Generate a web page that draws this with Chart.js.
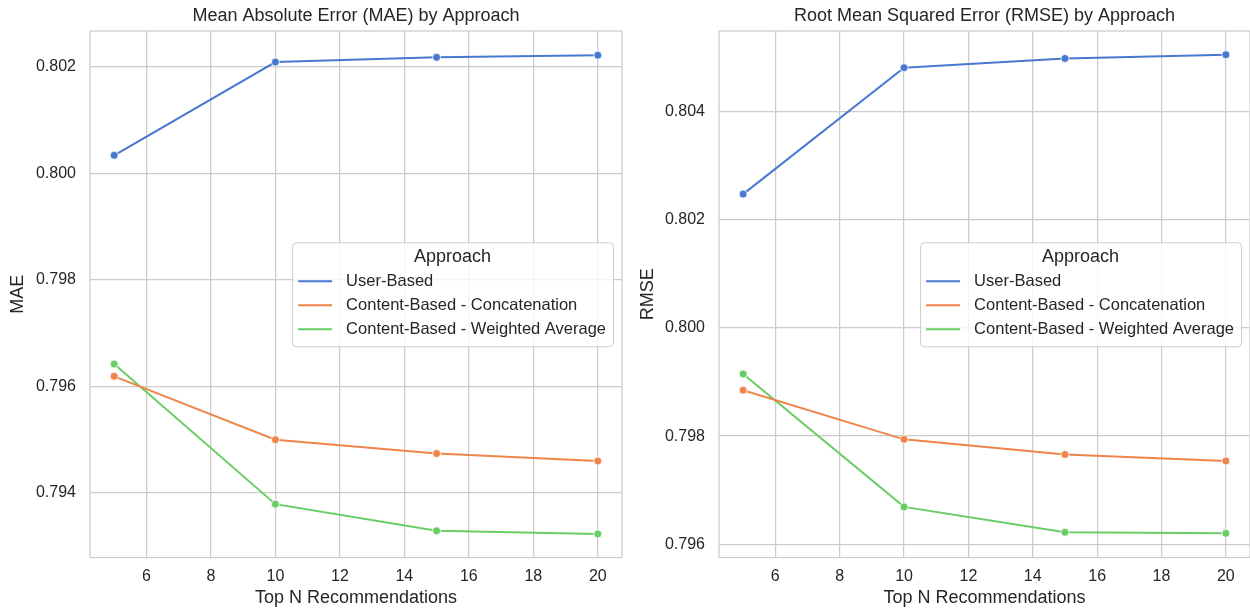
<!DOCTYPE html>
<html>
<head>
<meta charset="utf-8">
<script src="https://cdn.jsdelivr.net/npm/chart.js@4"></script>
<style>
  html, body { margin: 0; padding: 0; background: #fff; overflow: hidden; }
  #wrap { position: relative; width: 1250px; height: 611px; overflow: hidden; }
  canvas { position: absolute; top: 0; display: block; }
  #maeChart { left: 0; }
  #rmseChart { left: 630px; }
</style>
</head>
<body>
<div id="wrap">
  <canvas id="maeChart" width="630" height="611"></canvas>
  <canvas id="rmseChart" width="620" height="611"></canvas>
</div>
<script>
// Top-N sizes evaluated
const topN = [5, 10, 15, 20];
const approaches = ['User-Based', 'Content-Based - Concatenation', 'Content-Based - Weighted Average'];
const colors = ['#4878d0', '#ee854a', '#6acc64'];

// Mean Absolute Error per approach
const maeUser = [0.80034, 0.80209, 0.80218, 0.80222];
const maeConcat = [0.79619, 0.79500, 0.79474, 0.79460];
const maeWeighted = [0.79642, 0.79379, 0.79329, 0.79323];

// Root Mean Squared Error per approach
const rmseUser = [0.80248, 0.80482, 0.80499, 0.80506];
const rmseConcat = [0.79885, 0.79794, 0.79766, 0.79754];
const rmseWeighted = [0.79915, 0.79669, 0.79622, 0.79620];

const INK = '#262626';
const GRID = '#cccccc';
const FONT = '"Liberation Sans", Arial, sans-serif';

// frame around the plotting area (all four spines)
const framePlugin = {
  id: 'frame',
  beforeDatasetsDraw(chart) {
    const { ctx, chartArea: a } = chart;
    ctx.save();
    ctx.strokeStyle = GRID;
    ctx.lineWidth = 1.25;
    ctx.strokeRect(a.left, a.top, a.right - a.left, a.bottom - a.top);
    ctx.restore();
  }
};

// legend box placed at the centre-right of the plotting area
const insetLegend = {
  id: 'insetLegend',
  afterDatasetsDraw(chart) {
    const { ctx, chartArea: a } = chart;
    const sets = chart.data.datasets;
    ctx.save();
    ctx.font = '16.5px ' + FONT;
    let maxW = 0;
    sets.forEach(d => { maxW = Math.max(maxW, ctx.measureText(d.label).width); });
    const padL = 6, handle = 34, gap = 14, padR = 7;
    const w = padL + handle + gap + maxW + padR;
    const h = 104;
    const x = a.right - 9 - w;
    const y = (a.top + a.bottom) / 2 - h / 2;
    ctx.fillStyle = 'rgba(255,255,255,0.8)';
    ctx.strokeStyle = GRID;
    ctx.lineWidth = 1;
    ctx.beginPath();
    ctx.roundRect(x + 0.5, y + 0.5, w, h, 4);
    ctx.fill();
    ctx.stroke();

    ctx.fillStyle = INK;
    ctx.textBaseline = 'middle';
    ctx.textAlign = 'center';
    ctx.font = '18px ' + FONT;
    ctx.fillText('Approach', x + w / 2, y + 15);

    ctx.textAlign = 'left';
    ctx.font = '16.5px ' + FONT;
    sets.forEach((d, i) => {
      const cy = y + 39 + i * 24;
      ctx.strokeStyle = d.borderColor;
      ctx.lineWidth = 2;
      ctx.beginPath();
      ctx.moveTo(x + padL, cy);
      ctx.lineTo(x + padL + handle, cy);
      ctx.stroke();
      ctx.fillStyle = INK;
      ctx.fillText(d.label, x + padL + handle + gap, cy);
    });
    ctx.restore();
  }
};

function makeChart(canvasId, title, yLabel, series, yMin, yMax, yAxisWidth, padRight) {
  const datasets = series.map((vals, i) => ({
    label: approaches[i],
    data: topN.map((n, k) => ({ x: n, y: vals[k] })),
    borderColor: colors[i],
    backgroundColor: colors[i],
    borderWidth: 2,
    pointRadius: 4,
    pointHoverRadius: 4,
    pointBorderColor: '#ffffff',
    pointBorderWidth: 0.8,
    pointBackgroundColor: colors[i],
    tension: 0,
    clip: false
  }));
  return new Chart(document.getElementById(canvasId), {
    type: 'line',
    data: { datasets },
    plugins: [framePlugin, insetLegend],
    options: {
      responsive: false,
      animation: false,
      layout: { autoPadding: false, padding: { left: 0, right: padRight, top: 0, bottom: 0 } },
      plugins: {
        legend: { display: false },
        tooltip: { enabled: false },
        title: {
          display: true,
          text: title,
          fullSize: false,
          color: INK,
          font: { family: FONT, size: 18, weight: 'normal' },
          padding: { top: 5, bottom: 4.4 }
        }
      },
      scales: {
        x: {
          type: 'linear',
          min: 4.25,
          max: 20.75,
          afterFit(s) { s.height = 53.5; s.paddingLeft = 0; s.paddingRight = 0; },
          grid: { color: GRID, lineWidth: 1.25, drawTicks: false },
          border: { display: false },
          ticks: {
            stepSize: 2,
            includeBounds: false,
            padding: 9,
            color: INK,
            font: { family: FONT, size: 16 },
            maxRotation: 0
          },
          title: {
            display: true,
            text: 'Top N Recommendations',
            color: INK,
            font: { family: FONT, size: 18 },
            padding: { top: 0, bottom: 2 }
          }
        },
        y: {
          type: 'linear',
          min: yMin,
          max: yMax,
          afterFit(s) { s.width = yAxisWidth; },
          grid: { color: GRID, lineWidth: 1.25, drawTicks: false },
          border: { display: false },
          ticks: {
            stepSize: 0.002,
            includeBounds: false,
            padding: 14,
            color: INK,
            font: { family: FONT, size: 16 },
            callback: v => v.toFixed(3)
          },
          title: {
            display: true,
            text: yLabel,
            color: INK,
            font: { family: FONT, size: 18 },
            padding: { top: 7, bottom: 0 }
          }
        }
      }
    }
  });
}

makeChart('maeChart', 'Mean Absolute Error (MAE) by Approach', 'MAE',
  [maeUser, maeConcat, maeWeighted], 0.792788, 0.802674, 90, 8);
makeChart('rmseChart', 'Root Mean Squared Error (RMSE) by Approach', 'RMSE',
  [rmseUser, rmseConcat, rmseWeighted], 0.795753, 0.805499, 89, 0);
</script>
</body>
</html>
